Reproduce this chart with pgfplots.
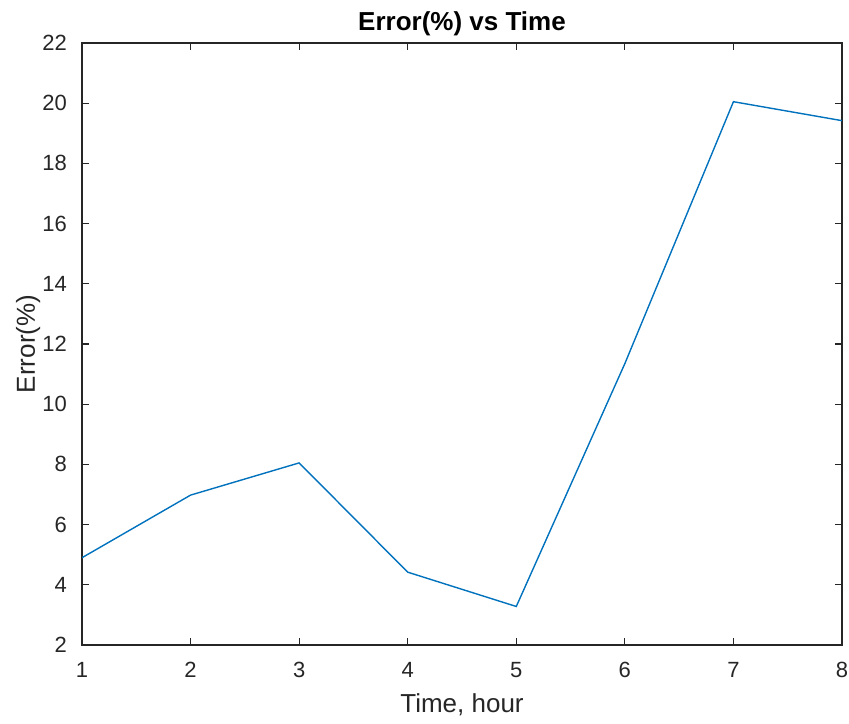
\documentclass[border=0pt]{standalone}
\usepackage{fontspec}
\setmainfont{Liberation Sans}
\usepackage{pgfplots}
\pgfplotsset{compat=1.18}
\definecolor{mblue}{rgb}{0,0.447,0.741}
\definecolor{axgray}{rgb}{0.15,0.15,0.15}
\begin{document}
\begin{tikzpicture}
\useasboundingbox (-41pt,-39pt) rectangle (383.5pt,322.5pt);
\begin{axis}[
  at={(0,0)}, anchor=south west,
  scale only axis, width=380pt, height=301pt,
  xmin=1, xmax=8, ymin=2, ymax=22,
  xtick={1,...,8}, ytick={2,4,...,22},
  tick align=inside, major tick length=3.5pt,
  axis line style={axgray, line width=0.6pt},
  every tick/.style={axgray, line width=0.6pt},
  ticklabel style={font=\fontsize{11}{13}\selectfont, text=axgray},
  xticklabel style={yshift=-5pt},
  yticklabel style={xshift=-4pt},
  /pgf/number format/assume math mode=true,
  xlabel={Time, hour}, ylabel={Error(\%)},
  every axis x label/.style={font=\fontsize{13}{15}\selectfont, text=axgray, at={(axis description cs:0.5,0)}, anchor=center, yshift=-30pt},
  every axis y label/.style={font=\fontsize{13}{15}\selectfont, text=axgray, at={(axis description cs:-0.071,0.5)}, anchor=center, rotate=90},
  title={Error(\%) vs Time},
  every axis title/.style={font=\bfseries\fontsize{13}{15}\selectfont, text=black, at={(axis description cs:0.5,1)}, anchor=center, yshift=9.5pt},
]
\addplot[mblue, line width=0.7pt] coordinates {
(1,4.9) (2,6.98) (3,8.05) (4,4.42) (5,3.28) (6,11.35) (7,20.05) (8,19.42)
};
\end{axis}
\end{tikzpicture}
\end{document}
